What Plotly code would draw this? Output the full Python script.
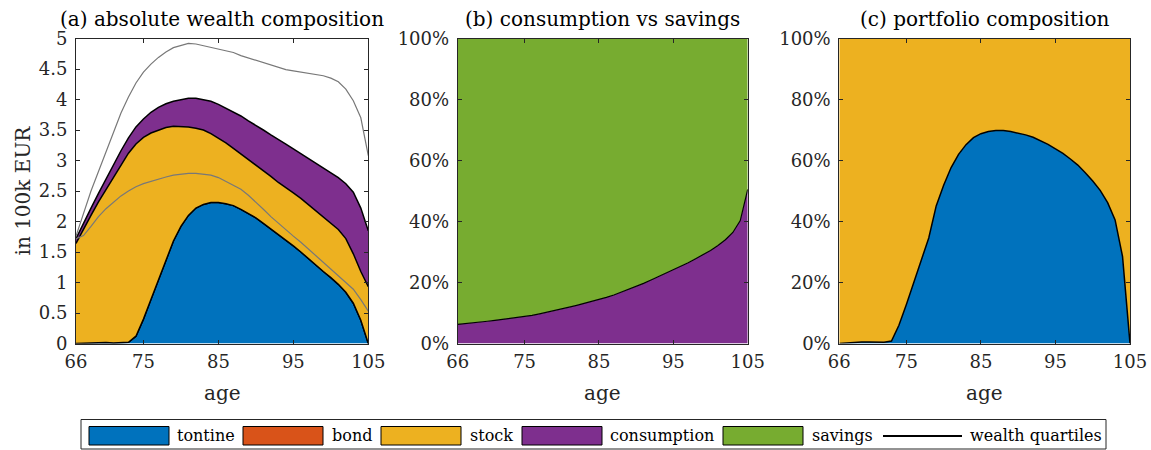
import plotly.graph_objects as go

# ---------------- data ----------------
age = list(range(66, 106))

# panel (a): stacked levels in 100k EUR
tontine_level = [0, 0.005, 0.01, 0.015, 0.015, 0.01, 0.01, 0.02, 0.12, 0.40,
                 0.72, 1.03, 1.36, 1.68, 1.92, 2.10, 2.22, 2.28, 2.31, 2.31,
                 2.29, 2.26, 2.20, 2.13, 2.06, 1.97, 1.88, 1.79, 1.69, 1.60,
                 1.50, 1.39, 1.29, 1.18, 1.08, 0.97, 0.84, 0.66, 0.38, 0.0]
bond_amount = [0.0] * 40
stock_level = [1.64, 1.88, 2.10, 2.32, 2.52, 2.73, 2.93, 3.12, 3.27, 3.38,
               3.45, 3.50, 3.54, 3.56, 3.56, 3.55, 3.53, 3.50, 3.44, 3.37,
               3.29, 3.20, 3.11, 3.02, 2.92, 2.83, 2.74, 2.64, 2.56, 2.47,
               2.38, 2.28, 2.18, 2.08, 1.97, 1.87, 1.72, 1.47, 1.18, 0.93]
consumption_level = [1.72, 1.98, 2.22, 2.46, 2.70, 2.93, 3.16, 3.37, 3.55, 3.68,
                     3.79, 3.87, 3.93, 3.97, 4.00, 4.02, 4.02, 4.00, 3.97, 3.92,
                     3.86, 3.80, 3.73, 3.65, 3.58, 3.50, 3.42, 3.35, 3.27, 3.19,
                     3.11, 3.03, 2.96, 2.88, 2.80, 2.72, 2.62, 2.48, 2.22, 1.85]
wealth_q_upper = [1.76, 2.15, 2.50, 2.82, 3.15, 3.48, 3.78, 4.04, 4.27, 4.45,
                  4.58, 4.69, 4.78, 4.85, 4.89, 4.92, 4.91, 4.88, 4.86, 4.83,
                  4.80, 4.77, 4.72, 4.68, 4.65, 4.60, 4.56, 4.52, 4.49, 4.47,
                  4.45, 4.42, 4.41, 4.39, 4.35, 4.29, 4.17, 3.98, 3.70, 3.08]
wealth_q_lower = [1.72, 1.77, 1.92, 2.08, 2.21, 2.32, 2.42, 2.50, 2.57, 2.62,
                  2.66, 2.70, 2.73, 2.76, 2.78, 2.79, 2.79, 2.78, 2.76, 2.72,
                  2.66, 2.60, 2.53, 2.43, 2.32, 2.20, 2.08, 1.97, 1.86, 1.76,
                  1.66, 1.55, 1.45, 1.34, 1.23, 1.12, 1.00, 0.89, 0.72, 0.53]

# panel (b): consumption share in %
consumption_share = [6.3, 6.5, 6.8, 7.0, 7.3, 7.6, 7.9, 8.2, 8.5, 8.8,
                     9.2, 9.7, 10.2, 10.7, 11.3, 11.9, 12.5, 13.1, 13.7, 14.3,
                     15.1, 15.9, 16.8, 17.7, 18.7, 19.7, 20.8, 21.9, 23.0, 24.1,
                     25.3, 26.5, 27.8, 29.1, 30.5, 32.1, 34.0, 36.4, 40.3, 50.5]
full_share = [100.0] * 40

# panel (c): tontine share of portfolio in %
tontine_share = [0.0, 0.2, 0.3, 0.5, 0.5, 0.4, 0.4, 0.8, 6.0, 12.8,
                 20.3, 27.7, 34.6, 45.1, 51.9, 57.7, 62.0, 65.2, 67.5, 68.8,
                 69.5, 69.8, 69.8, 69.5, 69.0, 68.4, 67.6, 66.5, 65.3, 63.8,
                 62.3, 60.5, 58.5, 56.0, 53.3, 50.2, 46.2, 40.5, 28.5, 0.0]

titles = ["(a) absolute wealth composition", "(b) consumption vs savings",
          "(c) portfolio composition"]
xticks = [66, 75, 85, 95, 105]
pct_ticks = [0, 20, 40, 60, 80, 100]
pct_labels = ["0%", "20%", "40%", "60%", "80%", "100%"]
legend_labels = ["tontine", "bond", "stock", "consumption", "savings", "wealth quartiles"]

# ---------------- style ----------------
C_TON = "#0072BD"
C_BOND = "#D95319"
C_STOCK = "#EDB120"
C_CONS = "#7E2F8E"
C_SAV = "#77AC30"
C_GRAY = "rgb(120,120,120)"
AX = "#262626"
FONT = "DejaVu Serif"
W, H = 1151, 450


def fx(p):
    return p / W


def fy(p):
    return 1 - p / H


fig = go.Figure()
OL = dict(color="black", width=1.5)

# panel (a)
fig.add_trace(go.Scatter(x=age, y=[0] * 40, mode="lines", line=dict(width=0),
                         xaxis="x", yaxis="y", hoverinfo="skip"))
fig.add_trace(go.Scatter(x=age, y=tontine_level, mode="lines", fill="tonexty",
                         fillcolor=C_TON, line=OL, xaxis="x", yaxis="y", name="tontine"))
fig.add_trace(go.Scatter(x=age, y=[t + b for t, b in zip(tontine_level, bond_amount)],
                         mode="lines", fill="tonexty", fillcolor=C_BOND, line=OL,
                         xaxis="x", yaxis="y", name="bond"))
fig.add_trace(go.Scatter(x=age, y=stock_level, mode="lines", fill="tonexty",
                         fillcolor=C_STOCK, line=OL, xaxis="x", yaxis="y", name="stock"))
fig.add_trace(go.Scatter(x=age, y=consumption_level, mode="lines", fill="tonexty",
                         fillcolor=C_CONS, line=OL, xaxis="x", yaxis="y", name="consumption"))
fig.add_trace(go.Scatter(x=age, y=wealth_q_upper, mode="lines",
                         line=dict(color=C_GRAY, width=1.2), xaxis="x", yaxis="y"))
fig.add_trace(go.Scatter(x=age, y=wealth_q_lower, mode="lines",
                         line=dict(color=C_GRAY, width=1.2), xaxis="x", yaxis="y"))

# panel (b)
fig.add_trace(go.Scatter(x=age, y=[0] * 40, mode="lines", line=dict(width=0),
                         xaxis="x2", yaxis="y2", hoverinfo="skip"))
fig.add_trace(go.Scatter(x=age, y=consumption_share, mode="lines", fill="tonexty",
                         fillcolor=C_CONS, line=dict(color="black", width=1.2),
                         xaxis="x2", yaxis="y2", name="consumption"))
fig.add_trace(go.Scatter(x=age, y=full_share, mode="lines", fill="tonexty",
                         fillcolor=C_SAV, line=dict(width=0), xaxis="x2", yaxis="y2",
                         name="savings"))

# panel (c)
fig.add_trace(go.Scatter(x=age, y=[0] * 40, mode="lines", line=dict(width=0),
                         xaxis="x3", yaxis="y3", hoverinfo="skip"))
fig.add_trace(go.Scatter(x=age, y=tontine_share, mode="lines", fill="tonexty",
                         fillcolor=C_TON, line=OL, xaxis="x3", yaxis="y3", name="tontine"))
fig.add_trace(go.Scatter(x=age, y=full_share, mode="lines", fill="tonexty",
                         fillcolor=C_STOCK, line=dict(width=0), xaxis="x3", yaxis="y3",
                         name="stock"))

ydom = [fy(343.5), fy(38.5)]
xdoms = [[fx(76), fx(368.3)], [fx(457.7), fx(747.7)], [fx(839.3), fx(1130)]]

common_ax = dict(showline=True, linecolor=AX, linewidth=1, mirror="allticks",
                 ticks="inside", ticklen=4, tickcolor=AX, tickwidth=1,
                 showgrid=False, zeroline=False, automargin=False,
                 tickfont=dict(family=FONT, size=18, color=AX))

layout = dict(width=W, height=H,
              margin=dict(l=0, r=0, t=0, b=0, pad=0, autoexpand=False),
              paper_bgcolor="white", plot_bgcolor="white", showlegend=False,
              font=dict(family=FONT, color=AX))
for i in range(3):
    sfx = "" if i == 0 else str(i + 1)
    layout["xaxis" + sfx] = dict(common_ax, domain=xdoms[i], range=[66, 105],
                                 tickmode="array", tickvals=xticks,
                                 ticktext=[str(v) for v in xticks],
                                 anchor="y" + sfx, ticklabelstandoff=2)
    if i == 0:
        layout["yaxis"] = dict(common_ax, domain=ydom, range=[0, 5], dtick=0.5,
                               tick0=0, anchor="x", ticklabelstandoff=4)
    else:
        layout["yaxis" + sfx] = dict(common_ax, domain=ydom, range=[0, 100],
                                     tickmode="array", tickvals=pct_ticks,
                                     ticktext=pct_labels,
                                     anchor="x" + sfx, ticklabelstandoff=4)
fig.update_layout(**layout)

ann = []
for i in range(3):
    cx = (xdoms[i][0] + xdoms[i][1]) / 2
    ann.append(dict(text=titles[i], x=cx, y=fy(19), xref="paper", yref="paper",
                    xanchor="center", yanchor="middle", showarrow=False,
                    font=dict(family=FONT, size=20, color="black")))
    ann.append(dict(text="age", x=cx, y=fy(393), xref="paper", yref="paper",
                    xanchor="center", yanchor="middle", showarrow=False,
                    font=dict(family=FONT, size=20, color=AX)))
ann.append(dict(text="in 100k EUR", x=fx(22), y=fy(190.5), xref="paper", yref="paper",
                xanchor="center", yanchor="middle", textangle=-90, showarrow=False,
                font=dict(family=FONT, size=20, color=AX)))

# ---------------- manual legend ----------------
shapes = [dict(type="rect", xref="paper", yref="paper", x0=fx(81), x1=fx(1106),
               y0=fy(449), y1=fy(419.5), line=dict(color=AX, width=1), fillcolor="white")]
patch_x = [89, 243, 381, 522, 723]
patch_col = [C_TON, C_BOND, C_STOCK, C_CONS, C_SAV]
text_x = [175, 330, 468, 608, 810, 968]
for px_, col in zip(patch_x, patch_col):
    shapes.append(dict(type="rect", xref="paper", yref="paper", x0=fx(px_), x1=fx(px_ + 80),
                       y0=fy(445), y1=fy(426.5), line=dict(color="black", width=1),
                       fillcolor=col))
shapes.append(dict(type="line", xref="paper", yref="paper", x0=fx(883), x1=fx(962),
                   y0=fy(436), y1=fy(436), line=dict(color="black", width=2.2)))
for tx, lab in zip(text_x, legend_labels):
    ann.append(dict(text=lab, x=fx(tx), y=fy(435.5), xref="paper", yref="paper",
                    xanchor="left", yanchor="middle", showarrow=False,
                    font=dict(family=FONT, size=16, color="black")))

fig.update_layout(annotations=ann, shapes=shapes)
fig.write_html("out.html",
               config={"displayModeBar": False, "staticPlot": True},
               post_script="document.body.style.margin='0px';"
                           "document.body.style.padding='0px';")
